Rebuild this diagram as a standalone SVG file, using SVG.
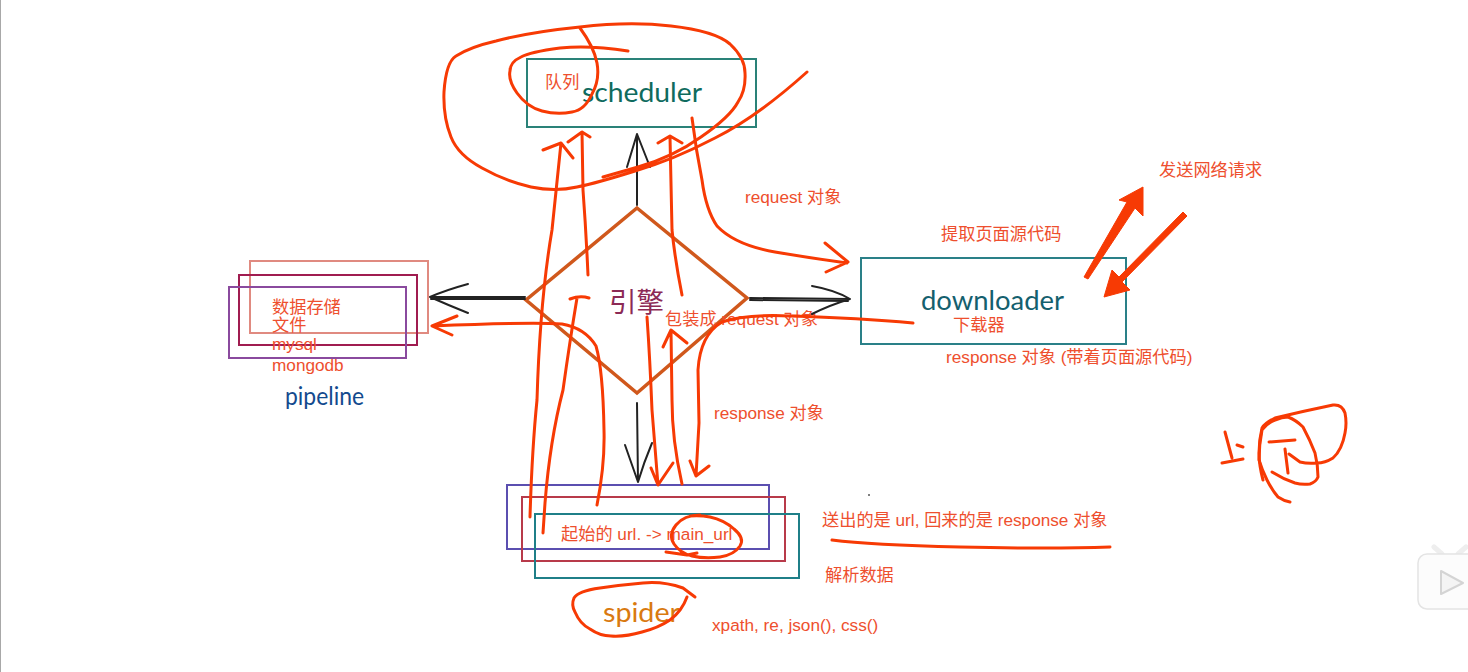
<svg xmlns="http://www.w3.org/2000/svg" width="1468" height="672" viewBox="0 0 1468 672">
<style>
text{font-family:"Liberation Sans","Noto Sans CJK SC",sans-serif}
.t{fill:#ee4f2e;font-size:17.2px}
.h{font-family:"Lato","Open Sans",sans-serif;font-weight:400}
.box{fill:none;stroke-width:2}
.r{fill:none;stroke:#f73a04;stroke-width:3;stroke-linecap:round;stroke-linejoin:round}
.k{fill:none;stroke:#222;stroke-width:2;stroke-linecap:round;stroke-linejoin:round}
</style>
<rect width="1468" height="672" fill="#fff"/>
<line x1="0.5" y1="0" x2="0.5" y2="672" stroke="#a8a8a8"/>
<g id="scheduler">
<rect class="box" x="527" y="59" width="229" height="68" stroke="#2a8278"/>
<text class="h" x="582" y="102" font-size="27" fill="#0f6b5e" textLength="120" lengthAdjust="spacingAndGlyphs">scheduler</text>
<text class="t" x="545" y="88">队列</text>
</g>
<g id="pipeline">
<rect class="box" x="250" y="261" width="178" height="72" stroke="#e08a80"/>
<rect class="box" x="239" y="275" width="178" height="70" stroke="#a01c50"/>
<rect class="box" x="229" y="287" width="177" height="71" stroke="#8a4a9e"/>
<text class="t" x="272" y="313">数据存储</text>
<text class="t" x="272" y="331">文件</text>
<text class="t" x="272" y="350">mysql</text>
<text class="t" x="272" y="371">mongodb</text>
<text class="h" x="285" y="405" font-size="25" fill="#134a8e" textLength="79" lengthAdjust="spacingAndGlyphs">pipeline</text>
</g>
<g id="engine">
<polygon points="637,208 747,298 637,393 526,300" fill="none" stroke="#d0581c" stroke-width="3.5"/>
<text x="609" y="312" font-size="27.5" fill="#8c2a55">引擎</text>
<text class="t" x="665" y="325">包装成 request 对象</text>
</g>
<g id="downloader">
<rect class="box" x="861" y="258" width="265" height="86" stroke="#2a8088"/>
<text class="h" x="921" y="310" font-size="27" fill="#14606e" textLength="143" lengthAdjust="spacingAndGlyphs">downloader</text>
<text class="t" x="953" y="331">下载器</text>
</g>
<g id="spider">
<rect class="box" x="507" y="485" width="262" height="64" stroke="#5b4fb0"/>
<rect class="box" x="522" y="497" width="263" height="64" stroke="#b83a4a"/>
<rect class="box" x="535" y="514" width="264" height="64" stroke="#1f7f88"/>
<text class="t" x="561" y="540">起始的 url. -&gt; main_url</text>
<text class="h" x="603" y="622" font-size="26" fill="#d97a10" textLength="77" lengthAdjust="spacingAndGlyphs">spider</text>
</g>
<g id="labels">
<text class="t" x="745" y="203">request 对象</text>
<text class="t" x="714" y="419">response 对象</text>
<text class="t" x="941" y="240">提取页面源代码</text>
<text class="t" x="1159" y="176">发送网络请求</text>
<text class="t" x="946" y="363">response 对象 (带着页面源代码)</text>
<text class="t" x="822" y="526">送出的是 url, 回来的是 response 对象</text>
<text class="t" x="825" y="581">解析数据</text>
<text class="t" x="712" y="631">xpath, re, json(), css()</text>
</g>
<g id="connectors">
<path class="k" d="M637 205V135M627 167L637 134L650 167"/>
<path class="k" d="M525 297H430M468 284Q446 290 430 297Q448 305 468 313"/>
<path class="k" d="M525 299H431"/>
<path class="k" d="M750 298L850 299M812 286Q835 290 850 299Q830 305 812 314"/>
<path class="k" d="M750 300L848 301"/>
<path class="k" d="M637 403L638 482M625 445Q632 465 638 482Q644 462 652 443"/>
<path class="r" d="M530 517Q532 450 537 400Q540 300 552 230L561 143M543 150L561 143L573 158"/>
<path class="r" d="M588 275Q586 230 583 190L582 132M568 142L582 132L590 137"/>
<path class="r" d="M543 533L545 503Q550 440 563 390Q570 340 577 298M570 299Q580 295 589 298"/>
<path class="r" d="M597 505Q605 465 604 430Q603 370 596 346Q585 328 562 324Q530 322 432 326M457 316L432 326L452 335"/>
<path class="r" d="M692 118Q696 150 702 180Q706 210 717 226Q735 245 775 252Q810 258 847 263M825 243L848 262L826 272"/>
<path class="r" d="M682 295Q675 260 672 230L670 137M658 143L670 136L682 143"/>
<path class="r" d="M647 317Q650 360 652 410L658 485M651 468L658 485L673 463"/>
<path class="r" d="M682 484Q672 440 672 400L671 331M663 347L671 330L687 343"/>
<path class="r" d="M913 323Q860 318 790 316Q745 314 722 322Q700 335 698 370L699 423L696 476M690 461L696 476L709 466"/>
<path class="r" d="M807 72Q757 117 715 138Q673 160 635 171Q597 183 577 187Q555 192 531 187Q505 181 482 168Q458 155 451 137Q443 117 444 92Q446 62 456 56Q470 47 496 41Q530 32 580 27Q630 21 671 26Q715 31 730 44Q745 58 745 73Q746 90 738 102Q730 117 701 137Q673 157 638 167L603 177"/>
<path class="r" d="M628 51Q590 45 560 48Q530 52 521 57Q510 62 510 71Q508 80 517 93Q527 107 542 111Q557 115 572 112Q585 110 592 94Q600 80 597 63Q594 47 580 28"/>
<path class="r" d="M666 552L687 555L697 553M700 515Q684 515 676 525Q668 535 674 544Q680 553 692 556Q705 559 720 557Q734 555 740 546Q745 538 734 529Q724 520 710 517Q700 515 690 516"/>
<path class="r" d="M695 597L683 588Q663 581 643 583Q620 585 600 588Q578 591 574 598Q571 605 575 612Q580 624 590 629Q600 636 611 636Q625 637 642 632Q658 628 670 620Q682 611 687 597"/>
<path class="r" d="M832 540Q870 545 960 547T1110 547"/>
<path class="r" d="M1225 432L1232 458M1237 445L1243 447M1222 463L1243 459"/>
<path class="r" d="M1263 480Q1259 465 1259 453Q1259 440 1262 428Q1265 423 1275 418Q1304 411 1333 405Q1342 404 1345 413Q1347 423 1345 433Q1342 450 1333 458Q1325 463 1317 463Q1308 464 1300 462L1289 454"/>
<path class="r" d="M1290 502Q1284 501 1278 497Q1272 490 1267 480Q1262 470 1259 460Q1259 445 1262 430Q1267 423 1275 420Q1282 417 1288 417Q1296 420 1303 427Q1310 440 1315 453Q1318 465 1318 477Q1316 482 1310 484Q1302 485 1295 483Q1283 479 1272 472"/>
<path class="r" d="M1269 442L1295 440M1285 449L1288 473"/>
<polygon points="1084,277 1127,202 1119,200 1143,187 1143,216 1135,208 1088,279" fill="#f73a04" stroke="#f73a04" stroke-linejoin="round"/>
<polygon points="1183,212 1187,216 1122,282 1130,290 1104,297 1112,270 1119,277" fill="#f73a04" stroke="#f73a04" stroke-linejoin="round"/>
</g>
<g id="watermark">
<circle cx="869" cy="495" r="1" fill="#555"/>
<path d="M1434 547L1442 554M1466 547L1458 554" stroke="#eee" stroke-width="5" stroke-linecap="round"/>
<rect x="1418" y="554" width="60" height="55" rx="9" fill="#fcfcfc" stroke="#e4e4e4" stroke-width="1.5"/>
<polygon points="1441,571 1463,583 1441,594" fill="#f4f4f4" stroke="#d4d4d4" stroke-width="2" stroke-linejoin="round"/>
</g>
</svg>
